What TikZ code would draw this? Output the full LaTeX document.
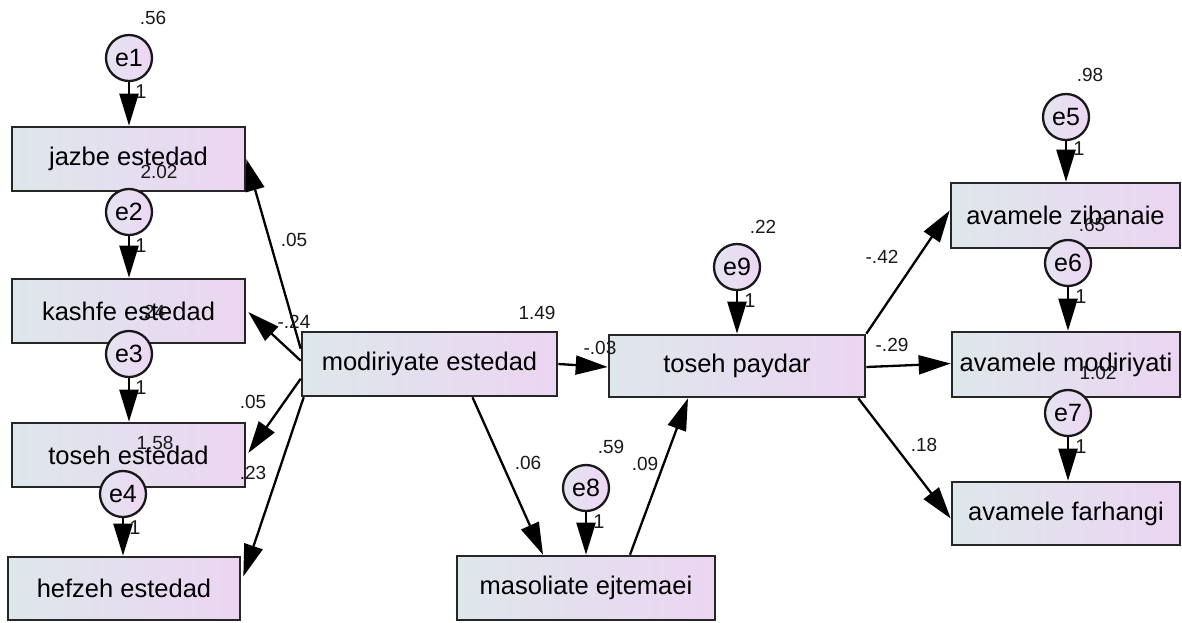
\documentclass[tikz,border=0pt]{standalone}
\usepackage{fontspec}
\setmainfont{Liberation Sans}
\usetikzlibrary{arrows.meta,calc}

\definecolor{boxL}{RGB}{222,231,235}
\definecolor{boxR}{RGB}{236,213,242}
\definecolor{errL}{RGB}{228,228,240}
\definecolor{errR}{RGB}{238,214,244}

\tikzset{
  obs/.style={draw=black!85, line width=2.6pt, left color=boxL, right color=boxR,
    minimum height=64pt, inner sep=0pt, font=\fontsize{25.5}{28}\selectfont},
  errc/.style={circle, draw=black!90, line width=2.3pt, left color=errL, right color=errR,
    minimum size=46pt, inner sep=0pt, font=\fontsize{25}{26}\selectfont},
  link/.style={line width=2.3pt, -{Triangle[length=32pt,width=19pt]}},
  num/.style={font=\fontsize{19}{20}\selectfont, inner sep=0pt, text=black!90},
  one/.style={font=\fontsize{20}{21}\selectfont, inner sep=0pt, text=black!90},
}

\begin{document}
\begin{tikzpicture}[x=1pt,y=-1pt]
\useasboundingbox (0,0) rectangle (1182,622);

% observed variables
\node[obs, minimum width=233pt] (jazbe)  at (128.5,159)   {jazbe estedad};
\node[obs, minimum width=233pt] (kashfe) at (128.5,311)   {kashfe estedad};
\node[obs, minimum width=233pt] (tosehE) at (128.5,455)   {toseh estedad};
\node[obs, minimum width=232pt, minimum height=63pt] (hefzeh) at (124,588.5) {hefzeh estedad};
\node[obs, minimum width=255pt] (modir)  at (429.5,364)   {modiriyate estedad};
\node[obs, minimum width=258pt] (masol)  at (586,588)     {masoliate ejtemaei};
\node[obs, minimum width=256pt, minimum height=62pt] (tosehP) at (737,366) {toseh paydar};
\node[obs, minimum width=229pt, minimum height=65pt] (ziba)   at (1065.5,215.5) {avamele zibanaie};
\node[obs, minimum width=228pt, minimum height=65pt] (modiri) at (1066,364.5) {avamele modiriyati};
\node[obs, minimum width=228pt, minimum height=63pt] (farhang) at (1066,513.5) {avamele farhangi};

% structural paths
\draw[link] ($(modir.north west)+(0,18)$) -- (jazbe.east);
\draw[link] ($(modir.north west)+(0,30)$) -- ($(kashfe.east)+(2,1)$);
\draw[link] ($(modir.north west)+(0,48)$) -- ($(tosehE.east)+(2,-2)$);
\draw[link] ($(modir.south west)+(3,0)$) -- ($(hefzeh.east)+(2,-12)$);
\draw[link] (modir.east) -- ($(tosehP.west)+(0,1)$);
\draw[link] ($(modir.south)+(43,0)$) -- ($(masol.north)+(-43,0)$);
\draw[link] ($(masol.north)+(44,0)$) -- ($(tosehP.south)+(-49,0)$);
\draw[link] (tosehP.north east) -- ($(ziba.west)+(0,-5)$);
\draw[link] ($(tosehP.east)+(0,1)$) -- ($(modiri.west)+(0,-1)$);
\draw[link] ($(tosehP.south east)+(-8,0)$) -- ($(farhang.west)+(0,5)$);

% error terms
\node[errc] (e1) at (129,58)   {e1};
\node[errc] (e2) at (129,212)  {e2};
\node[errc] (e3) at (129,354)  {e3};
\node[errc] (e4) at (123,494)  {e4};
\node[errc] (e5) at (1066,117) {e5};
\node[errc] (e6) at (1068,263) {e6};
\node[errc] (e7) at (1068,413) {e7};
\node[errc] (e8) at (586,488)  {e8};
\node[errc] (e9) at (737,267)  {e9};

\draw[link] (e1.south) -- (e1.south |- jazbe.north);
\draw[link] (e2.south) -- (e2.south |- kashfe.north);
\draw[link] (e3.south) -- (e3.south |- tosehE.north);
\draw[link] (e4.south) -- (e4.south |- hefzeh.north);
\draw[link] (e5.south) -- (e5.south |- ziba.north);
\draw[link] (e6.south) -- (e6.south |- modiri.north);
\draw[link] (e7.south) -- (e7.south |- farhang.north);
\draw[link] (e8.south) -- (e8.south |- masol.north);
\draw[link] (e9.south) -- (e9.south |- tosehP.north);

% fixed loadings
\node[one] (w1) at (141,92)   {1};
\node[one] (w2) at (141,246)  {1};
\node[one] (w3) at (141,388)  {1};
\node[one] (w4) at (135,528)  {1};
\node[one] (w5) at (1079,149) {1};
\node[one] (w6) at (1081,297) {1};
\node[one] (w7) at (1081,447) {1};
\node[one] (w8) at (599,522)  {1};
\node[one] (w9) at (750,301)  {1};

% variances
\node[num] (v1) at (153,18)   {.56};
\node[num] (v2) at (159,172)  {2.02};
\node[num] (v3) at (152,312)  {.24};
\node[num] (v4) at (155,443)  {1.58};
\node[num] (v5) at (1090,75)  {.98};
\node[num] (v6) at (1092,225) {.65};
\node[num] (v7) at (1098,373) {1.02};
\node[num] (v8) at (611,447)  {.59};
\node[num] (v9) at (763,227)  {.22};
\node[num] (v0) at (537,313)  {1.49};

% path coefficients
\node[num] (c1) at (294,240)  {.05};
\node[num] (c2) at (294,322)  {-.24};
\node[num] (c3) at (253,402)  {.05};
\node[num] (c4) at (253,473)  {.23};
\node[num] (c5) at (600,348)  {-.03};
\node[num] (c6) at (528,463)  {.06};
\node[num] (c7) at (645,464)  {.09};
\node[num] (c8) at (882,257)  {-.42};
\node[num] (c9) at (892,345)  {-.29};
\node[num] (c10) at (924,445) {.18};
\end{tikzpicture}
\end{document}
